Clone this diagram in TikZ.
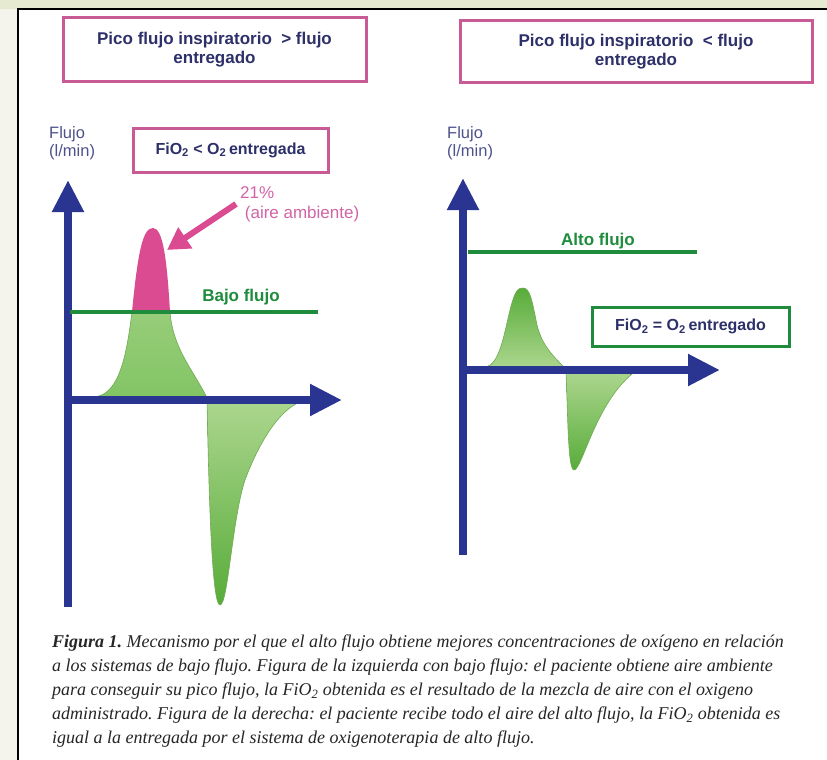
\documentclass[tikz,border=0pt]{standalone}
\usepackage{fontspec}
\setmainfont{Liberation Serif}
\setsansfont{Liberation Sans}
\usetikzlibrary{arrows.meta, positioning}

\definecolor{bgpale}{RGB}{244, 244, 236}
\definecolor{bgtop}{RGB}{230, 234, 208}
\definecolor{axisblue}{RGB}{42, 52, 145}
\definecolor{boxtext}{RGB}{45, 48, 105}
\definecolor{labeltext}{RGB}{78, 82, 140}
\definecolor{boxpink}{RGB}{200, 90, 150}
\definecolor{peakpink}{RGB}{218, 75, 145}
\definecolor{notepink}{RGB}{210, 100, 165}
\definecolor{flowgreen}{RGB}{30, 140, 60}
\definecolor{lightgreen}{RGB}{172, 214, 142}
\definecolor{midgreen}{RGB}{130, 196, 100}
\definecolor{deepgreen}{RGB}{88, 172, 58}
\definecolor{edgegreen}{RGB}{112, 170, 82}

% flow curves, in pixels
\newcommand{\lowpeak}{(92,397) .. controls (118,397) and (126,360) .. (132,312)
  .. controls (138,250) and (143,228) .. (153,228)
  .. controls (163,228) and (167,260) .. (170,312)
  .. controls (173,350) and (195,372) .. (208,400) -- (92,400) -- cycle}
\newcommand{\lowdip}{(207,400) .. controls (209,500) and (212,605) .. (220,605)
  .. controls (228,605) and (232,520) .. (245,480)
  .. controls (260,440) and (280,410) .. (300,402) -- cycle}
\newcommand{\highpeak}{(488,366) .. controls (500,362) and (505,330) .. (510,310)
  .. controls (515,290) and (518,288) .. (523,288)
  .. controls (530,288) and (532,300) .. (537,325)
  .. controls (542,345) and (552,355) .. (565,368) -- (488,368) -- cycle}
\newcommand{\highdip}{(566,372) .. controls (568,420) and (568,470) .. (574,470)
  .. controls (582,470) and (595,405) .. (632,374) -- cycle}

\begin{document}
\begin{tikzpicture}[x=1pt, y=-1pt,
  titlebox/.style={draw=boxpink, line width=3pt, align=center, text=boxtext,
    font=\sffamily\bfseries\fontsize{17}{18.5}\selectfont},
  fiobox/.style={line width=3pt, text=boxtext, inner sep=0pt,
    font=\sffamily\bfseries\fontsize{16}{18}\selectfont},
  axislabel/.style={anchor=north west, inner sep=0pt, align=left, text=labeltext,
    font=\sffamily\fontsize{16.5}{18}\selectfont},
  flowlabel/.style={text=flowgreen, inner sep=0pt,
    font=\sffamily\bfseries\fontsize{17}{18}\selectfont},
  axisarrow/.style={axisblue, line width=8pt, -{Triangle[length=32pt, width=30pt]}},
  flowline/.style={flowgreen, line width=3.5pt},
  pinkarrow/.style={peakpink, line width=6pt, -{Triangle[length=22pt, width=24pt]}},
  curveedge/.style={edgegreen, line width=0.6pt}]

  \useasboundingbox (0,0) rectangle (827,760);

  % page frame
  \fill[bgpale] (0,0) rectangle (827,760);
  \fill[bgtop] (0,0) rectangle (827,9);
  \fill[white] (18,9) rectangle (827,760);
  \draw[black, line width=2.5pt] (18,760) -- (18,9) -- (827,9);

  % titles
  \node[titlebox, minimum width=303pt, minimum height=63pt] (lowcase) at (214.5,49.5)
    {Pico flujo inspiratorio\ \ > flujo\\entregado};
  \node[titlebox, minimum width=352pt, minimum height=61pt] (highcase) at (636,51.5)
    {Pico flujo inspiratorio\ \ < flujo\\entregado};

  % left: low flow
  \node[axislabel] (lowunit) at (49,126) {Flujo\\(l/min)};
  \node[fiobox, draw=boxpink, minimum width=195pt, minimum height=44pt] (lowfio) at (230.5,150)
    {FiO\textsubscript{2} < O\textsubscript{2}\,entregada};

  \begin{scope}
    \clip (0,0) rectangle (827,312);
    \fill[peakpink] \lowpeak;
  \end{scope}
  \begin{scope}
    \clip (0,312) rectangle (827,760);
    \shade[top color=lightgreen, bottom color=midgreen] \lowpeak;
  \end{scope}
  \draw[curveedge] (92,397) .. controls (118,397) and (126,360) .. (132,312);
  \draw[curveedge] (170,312) .. controls (173,350) and (195,372) .. (208,400);
  \shade[top color=lightgreen, bottom color=deepgreen] \lowdip;
  \draw[curveedge] \lowdip;

  \coordinate (lowbottom) at (68,607);
  \coordinate (lowtop) at (68,180);
  \coordinate (loworigin) at (64,400);
  \coordinate (lowright) at (342,400);
  \draw[axisarrow] (lowbottom) -- (lowtop);
  \draw[axisarrow] (loworigin) -- (lowright);

  \coordinate (lowstart) at (70,312);
  \coordinate (lowend) at (318,312);
  \draw[flowline] (lowstart) -- (lowend);
  \node[flowlabel] (lowname) at (241,297) {Bajo flujo};

  \node[anchor=north west, inner sep=0pt, align=left, text=notepink,
    font=\sffamily\fontsize{17}{20}\selectfont] (ambient) at (240,186)
    {21\%\\\ (aire ambiente)};
  \coordinate (arrowtail) at (236,204);
  \coordinate (peaktip) at (167,250);
  \draw[pinkarrow] (arrowtail) -- (peaktip);

  % right: high flow
  \node[axislabel] (highunit) at (447,126) {Flujo\\(l/min)};

  \shade[top color=deepgreen, bottom color=lightgreen] \highpeak;
  \draw[curveedge] (488,366) .. controls (500,362) and (505,330) .. (510,310)
    .. controls (515,290) and (518,288) .. (523,288)
    .. controls (530,288) and (532,300) .. (537,325)
    .. controls (542,345) and (552,355) .. (565,368);
  \shade[top color=lightgreen, bottom color=deepgreen] \highdip;
  \draw[curveedge] \highdip;

  \coordinate (highbottom) at (463,555);
  \coordinate (hightop) at (463,178);
  \coordinate (highorigin) at (459,370);
  \coordinate (highright) at (720,370);
  \draw[axisarrow] (highbottom) -- (hightop);
  \draw[axisarrow] (highorigin) -- (highright);

  \coordinate (highstart) at (468,252);
  \coordinate (highend) at (697,252);
  \draw[flowline] (highstart) -- (highend);
  \node[flowlabel] (highname) at (598,241) {Alto flujo};

  \node[fiobox, draw=flowgreen, minimum width=197pt, minimum height=39pt] (highfio) at (690.5,326.5)
    {FiO\textsubscript{2} = O\textsubscript{2}\,entregado};

  % caption
  \node[anchor=north west, inner sep=0pt, align=left, text=black!85,
    font=\itshape\fontsize{18}{24}\selectfont\frenchspacing] (caption) at (52,635)
    {\textbf{Figura 1.} Mecanismo por el que el alto flujo obtiene mejores concentraciones de oxígeno en relación\\
     a los sistemas de bajo flujo. Figura de la izquierda con bajo flujo: el paciente obtiene aire ambiente\\
     para conseguir su pico flujo, la FiO\textsubscript{2} obtenida es el resultado de la mezcla de aire con el oxigeno\\
     administrado. Figura de la derecha: el paciente recibe todo el aire del alto flujo, la FiO\textsubscript{2} obtenida es\\
     igual a la entregada por el sistema de oxigenoterapia de alto flujo.};
\end{tikzpicture}
\end{document}
